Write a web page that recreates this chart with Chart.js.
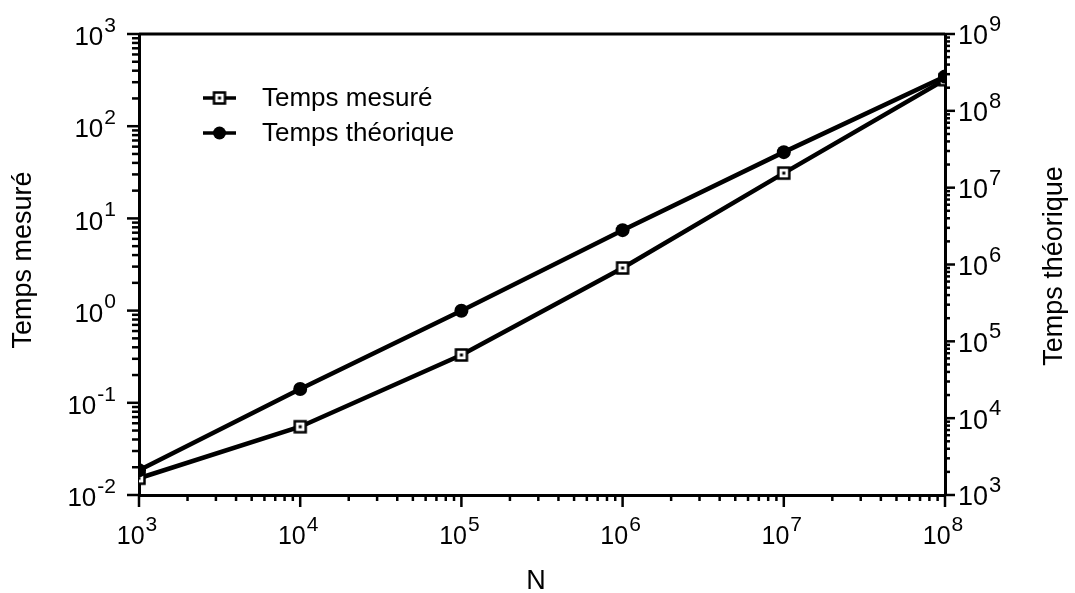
<!DOCTYPE html>
<html>
<head>
<meta charset="utf-8">
<script src="https://cdn.jsdelivr.net/npm/chart.js@4/dist/chart.umd.min.js"></script>
<style>
  html, body { margin: 0; padding: 0; background: #fff; }
</style>
</head>
<body>
<canvas id="logChart" width="1075" height="593"></canvas>
<script>
// data
const nValues = [1e3, 1e4, 1e5, 1e6, 1e7, 1e8];
const tempsMesure = [0.0152, 0.055, 0.33, 2.9, 31, 320];
const tempsTheorique = [2.1e3, 2.4e4, 2.5e5, 2.8e6, 2.9e7, 2.8e8];
const seriesLabels = ['Temps mesuré', 'Temps théorique'];

// tick labels (powers of ten)
const xExponents = [3, 4, 5, 6, 7, 8];
const yLeftExponents = [-2, -1, 0, 1, 2, 3];
const yRightExponents = [3, 4, 5, 6, 7, 8, 9];

const xTitle = 'N';
const yLeftTitle = 'Temps mesuré';
const yRightTitle = 'Temps théorique';

const FONT = '"Liberation Sans", Arial, Helvetica, sans-serif';

// open square with a dot in the middle
function makeSquareMarker() {
    let c = document.createElement('canvas');
    c.width = 16;
    c.height = 16;
    let g = c.getContext('2d');
    g.fillStyle = '#fff';
    g.fillRect(2, 2, 12, 12);
    g.strokeStyle = '#000';
    g.lineWidth = 2.5;
    g.strokeRect(2.5, 2.5, 11, 11);
    g.fillStyle = '#000';
    g.fillRect(6.5, 6.5, 3, 3);
    return c;
}
const squareMarker = makeSquareMarker();

// 1..9 x 10^e for each decade
function decadeTicks(exps) {
    let out = [];
    for (let i = 0; i < exps.length - 1; i++) {
        for (let m = 1; m <= 9; m++) {
            out.push([m * Math.pow(10, exps[i]), m === 1]);
        }
    }
    out.push([Math.pow(10, exps[exps.length - 1]), true]);
    return out;
}

function powerLabel(ctx, exp, x, y, align, size) {
    const base = size + 'px ' + FONT;
    const small = Math.round(size * 0.82) + 'px ' + FONT;
    ctx.font = base;
    let w1 = ctx.measureText('10').width;
    ctx.font = small;
    let w2 = ctx.measureText(String(exp)).width;
    let total = w1 + 1 + w2;
    let x0 = align === 'left' ? x : (align === 'right' ? x - total : x - total / 2);
    ctx.textAlign = 'left';
    ctx.textBaseline = 'middle';
    ctx.font = base;
    ctx.fillText('10', x0, y);
    ctx.font = small;
    ctx.fillText(String(exp), x0 + w1 + 1, y - 12);
}

function seg(ctx, x1, y1, x2, y2) {
    ctx.beginPath();
    ctx.moveTo(x1, y1);
    ctx.lineTo(x2, y2);
    ctx.stroke();
}

const axisDecor = {
    id: 'axisDecor',
    afterDraw(chart) {
        const ctx = chart.ctx;
        const { left, right, top, bottom } = chart.chartArea;
        const sx = chart.scales.x;
        const sy = chart.scales.y;
        const sy2 = chart.scales.y2;
        ctx.save();
        ctx.strokeStyle = '#000';
        ctx.fillStyle = '#000';

        // top frame line
        ctx.lineWidth = 3;
        seg(ctx, left, top, right, top);

        // tick marks
        ctx.lineWidth = 2.5;
        decadeTicks(xExponents).forEach(([v, major]) => {
            let p = sx.getPixelForValue(v);
            seg(ctx, p, bottom, p, bottom + (major ? 12 : 6));
        });
        decadeTicks(yLeftExponents).forEach(([v, major]) => {
            let p = sy.getPixelForValue(v);
            seg(ctx, left, p, left - (major ? 12 : 7), p);
        });
        decadeTicks(yRightExponents).forEach(([v, major]) => {
            let p = sy2.getPixelForValue(v);
            seg(ctx, right, p, right + (major ? 10 : 5), p);
        });

        // tick labels
        xExponents.forEach(e => powerLabel(ctx, e, sx.getPixelForValue(Math.pow(10, e)) - 2, bottom + 42, 'center', 25));
        yLeftExponents.forEach(e => powerLabel(ctx, e, left - 23, sy.getPixelForValue(Math.pow(10, e)) + 4, 'right', 26));
        yRightExponents.forEach(e => powerLabel(ctx, e, right + 13, sy2.getPixelForValue(Math.pow(10, e)) + 3, 'left', 27));

        // axis titles
        ctx.font = '27px ' + FONT;
        ctx.textAlign = 'center';
        ctx.textBaseline = 'middle';
        ctx.fillText(xTitle, 536, 582);
        ctx.save();
        ctx.translate(24, 260);
        ctx.rotate(-Math.PI / 2);
        ctx.fillText(yLeftTitle, 0, 0);
        ctx.restore();
        ctx.save();
        ctx.translate(1055, 266);
        ctx.rotate(-Math.PI / 2);
        ctx.fillText(yRightTitle, 0, 0);
        ctx.restore();

        // legend
        const rows = [98, 133];
        ctx.font = '26px ' + FONT;
        ctx.textAlign = 'left';
        seriesLabels.forEach((label, i) => {
            let y = rows[i];
            ctx.lineWidth = 3.5;
            seg(ctx, 203, y, 236, y);
            if (i === 0) {
                ctx.drawImage(squareMarker, 219.5 - 8, y - 8);
            } else {
                ctx.beginPath();
                ctx.arc(219.5, y, 6.5, 0, Math.PI * 2);
                ctx.fill();
            }
            ctx.fillText(label, 262, y + 1);
        });
        ctx.restore();
    }
};

let ctx = document.getElementById('logChart').getContext('2d');
let chart = new Chart(ctx, {
    type: 'line',
    data: {
        datasets: [{
            label: seriesLabels[0],
            data: nValues.map((n, i) => ({ x: n, y: tempsMesure[i] })),
            yAxisID: 'y',
            borderColor: '#000',
            borderWidth: 4.5,
            pointStyle: squareMarker,
            pointRadius: 7,
            order: 1
        }, {
            label: seriesLabels[1],
            data: nValues.map((n, i) => ({ x: n, y: tempsTheorique[i] })),
            yAxisID: 'y2',
            borderColor: '#000',
            borderWidth: 4.5,
            pointStyle: 'circle',
            pointRadius: 7,
            pointBackgroundColor: '#000',
            pointBorderWidth: 0,
            order: 0
        }]
    },
    options: {
        responsive: false,
        animation: false,
        layout: { padding: { top: 34, left: 0, right: 0, bottom: 0 } },
        plugins: {
            legend: { display: false },
            tooltip: { enabled: false }
        },
        scales: {
            x: {
                type: 'logarithmic',
                position: 'bottom',
                min: 1e3,
                max: 1e8,
                ticks: { display: false },
                grid: { display: false },
                border: { display: true, color: '#000', width: 3 },
                afterFit: s => { s.height = 98; }
            },
            y: {
                type: 'logarithmic',
                position: 'left',
                min: 1e-2,
                max: 1e3,
                ticks: { display: false },
                grid: { display: false },
                border: { display: true, color: '#000', width: 3 },
                afterFit: s => { s.width = 139; }
            },
            y2: {
                type: 'logarithmic',
                position: 'right',
                min: 1e3,
                max: 1e9,
                ticks: { display: false },
                grid: { display: false },
                border: { display: true, color: '#000', width: 3 },
                afterFit: s => { s.width = 130; }
            }
        }
    },
    plugins: [axisDecor]
});
</script>
</body>
</html>
